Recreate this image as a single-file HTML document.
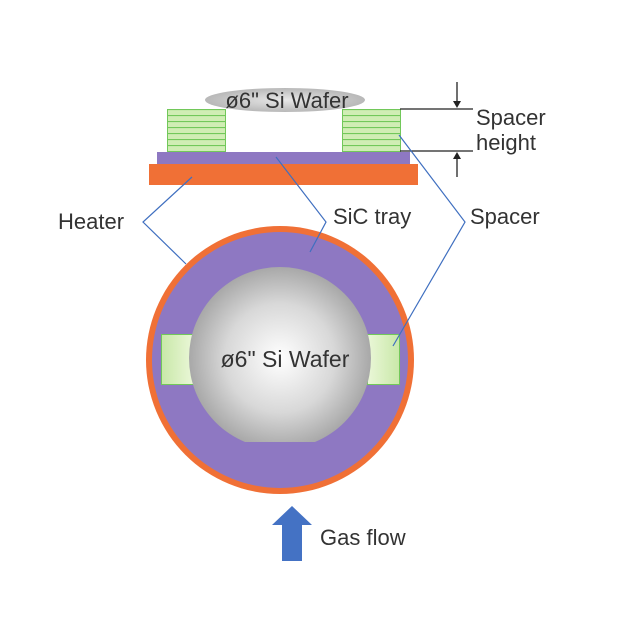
<!DOCTYPE html>
<html><head><meta charset="utf-8"><style>html,body{margin:0;padding:0;background:#fff}svg{display:block}</style></head>
<body>
<svg width="625" height="625" viewBox="0 0 625 625" xmlns="http://www.w3.org/2000/svg" font-family="'Liberation Sans', sans-serif">
<defs>
<radialGradient id="wg" cx="0.5" cy="0.5" r="0.5">
<stop offset="0" stop-color="#ffffff"/><stop offset="0.6" stop-color="#d8d8d8"/><stop offset="1" stop-color="#a8a8a8"/>
</radialGradient>
<linearGradient id="sg" x1="0" x2="1"><stop offset="0" stop-color="#c9e8a8"/><stop offset="1" stop-color="#eaf7d8"/></linearGradient>
<linearGradient id="sg2" x1="1" x2="0"><stop offset="0" stop-color="#c9e8a8"/><stop offset="1" stop-color="#eaf7d8"/></linearGradient>
<radialGradient id="eg" cx="0.5" cy="0.5" r="0.5"><stop offset="0" stop-color="#e8e8e8"/><stop offset="1" stop-color="#b8b8b8"/></radialGradient>
<clipPath id="wc"><rect x="180" y="250" width="200" height="192"/></clipPath>
<pattern id="st" x="0" y="109" width="10" height="6" patternUnits="userSpaceOnUse">
<rect width="10" height="6" fill="#d0edb4"/><line x1="0" y1="0.5" x2="10" y2="0.5" stroke="#72c85a" stroke-width="1.2"/></pattern>
</defs>
<ellipse cx="285" cy="100" rx="80" ry="12" fill="url(#eg)"/>
<text x="287" y="108" font-size="22" text-anchor="middle" fill="#333">ø6" Si Wafer</text>
<rect x="167.5" y="109.5" width="58" height="42" fill="url(#st)" stroke="#72c85a"/>
<rect x="342.5" y="109.5" width="58" height="42" fill="url(#st)" stroke="#72c85a"/>
<rect x="157" y="152" width="253" height="12" fill="#8e78c2"/>
<rect x="149" y="164" width="269" height="21" fill="#f07036"/>
<g stroke="#222" stroke-width="1.3" fill="#222">
<line x1="400" y1="109" x2="473" y2="109"/><line x1="400" y1="151" x2="473" y2="151"/>
<line x1="457" y1="82" x2="457" y2="102"/><polygon points="453,101 461,101 457,108" stroke="none"/>
<line x1="457" y1="158" x2="457" y2="177"/><polygon points="453,159 461,159 457,152" stroke="none"/>
</g>
<text x="476" y="125" font-size="22" fill="#333">Spacer</text>
<text x="476" y="150" font-size="22" fill="#333">height</text>
<circle cx="280" cy="360" r="134" fill="#f07036"/>
<circle cx="280" cy="360" r="128" fill="#8e78c2"/>
<rect x="161.5" y="334.5" width="32" height="50" fill="url(#sg)" stroke="#72c85a"/>
<rect x="367.5" y="334.5" width="32" height="50" fill="url(#sg2)" stroke="#72c85a"/>
<circle cx="280" cy="358" r="91" fill="url(#wg)" clip-path="url(#wc)"/>
<text x="285" y="367" font-size="23" text-anchor="middle" fill="#333">ø6" Si Wafer</text>
<g stroke="#3f6fc0" stroke-width="1.2" fill="none">
<polyline points="192,177 143,222 186,264"/>
<polyline points="276,157 326,222 310,252"/>
<polyline points="399,135 465,222 393,346"/>
</g>
<text x="58" y="229" font-size="22" fill="#333">Heater</text>
<text x="333" y="224" font-size="22" fill="#333">SiC tray</text>
<text x="470" y="224" font-size="22" fill="#333">Spacer</text>
<polygon points="292,506 312,525 302,525 302,561 282,561 282,525 272,525" fill="#4472c4"/>
<text x="320" y="545" font-size="22" fill="#333">Gas flow</text>
</svg>
</body></html>
